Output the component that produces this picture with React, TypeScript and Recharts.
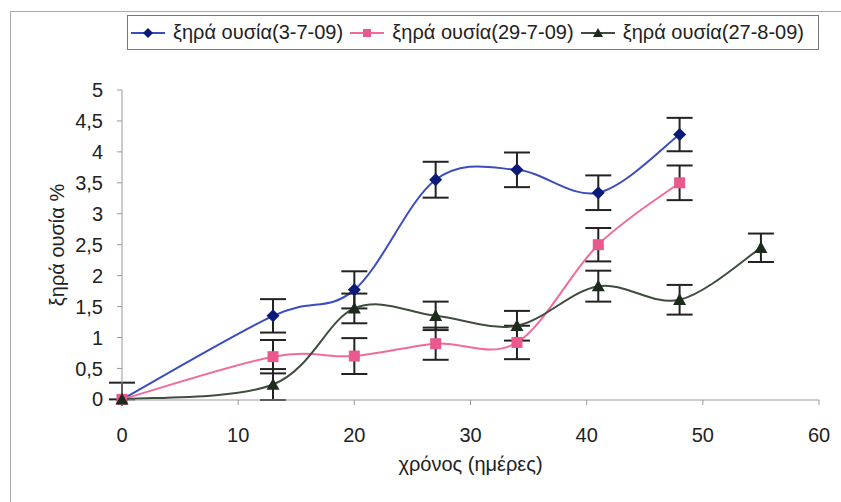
import { LineChart, Line, XAxis, YAxis, ErrorBar, Legend, Label } from 'recharts';

// sampling days
const days = [0, 13, 20, 27, 34, 41, 48, 55];

// dry matter % per harvest batch, with standard deviation
const dryMatter0307 = [0, 1.35, 1.77, 3.55, 3.71, 3.34, 4.28];
const err0307 = [0.27, 0.27, 0.3, 0.29, 0.28, 0.28, 0.27];
const dryMatter2907 = [0, 0.69, 0.7, 0.9, 0.92, 2.5, 3.5];
const err2907 = [null, 0.27, 0.29, 0.26, 0.27, 0.27, 0.28];
const dryMatter2708 = [0, 0.24, 1.47, 1.35, 1.19, 1.83, 1.61, 2.45];
const err2708 = [null, 0.25, 0.24, 0.23, 0.24, 0.25, 0.24, 0.23];

const xTicks = [0, 10, 20, 30, 40, 50, 60];
const yTicks = [0, 0.5, 1, 1.5, 2, 2.5, 3, 3.5, 4, 4.5, 5];

const seriesNames = ['ξηρά ουσία(3-7-09)', 'ξηρά ουσία(29-7-09)', 'ξηρά ουσία(27-8-09)'];

const FONT = '"Liberation Sans", Arial, sans-serif';
const FS = 20;

const build = (vals: number[], errs: (number | null)[]) =>
  vals.map((v, i) => ({
    day: days[i],
    value: v,
    // the first point sits on the axis, so only the upper half of its bar shows
    err: errs[i] == null ? null : i === 0 ? [0, errs[i]] : errs[i],
  }));

const data0307 = build(dryMatter0307, err0307);
const data2907 = build(dryMatter2907, err2907);
const data2708 = build(dryMatter2708, err2708);

// Excel-like smoothed line (uniform Catmull-Rom through every point)
const smoothCurve = (ctx: any) => {
  let pts: number[][] = [];
  return {
    areaStart() {},
    areaEnd() {},
    lineStart() {
      pts = [];
    },
    point(x: number, y: number) {
      pts.push([+x, +y]);
    },
    lineEnd() {
      if (!pts.length) return;
      ctx.moveTo(pts[0][0], pts[0][1]);
      for (let i = 0; i < pts.length - 1; i++) {
        const p0 = pts[i - 1] || pts[i];
        const p1 = pts[i];
        const p2 = pts[i + 1];
        const p3 = pts[i + 2] || p2;
        ctx.bezierCurveTo(
          p1[0] + (p2[0] - p0[0]) / 6,
          p1[1] + (p2[1] - p0[1]) / 6,
          p2[0] - (p3[0] - p1[0]) / 6,
          p2[1] - (p3[1] - p1[1]) / 6,
          p2[0],
          p2[1]
        );
      }
    },
  };
};

const colors = {
  blueLine: '#3a4cc0',
  blueMark: '#0c1a78',
  pinkLine: '#f06b9c',
  pinkMark: '#e9598d',
  greenLine: '#3e4d3e',
  greenMark: '#1d2b1d',
};

const Diamond = ({ cx, cy, fill, size = 6.5 }: any) => (
  <path d={`M${cx},${cy - size} L${cx + size},${cy} L${cx},${cy + size} L${cx - size},${cy} Z`} fill={fill} />
);
const Square = ({ cx, cy, fill, size = 5.5 }: any) => (
  <rect x={cx - size} y={cy - size} width={size * 2} height={size * 2} fill={fill} />
);
const Triangle = ({ cx, cy, fill, size = 6.5 }: any) => (
  <path d={`M${cx},${cy - size} L${cx + size},${cy + size * 0.8} L${cx - size},${cy + size * 0.8} Z`} fill={fill} />
);

const renderLegend = () => {
  const items = [
    { name: seriesNames[0], line: colors.blueLine, mark: <Diamond cx={17} cy={8} size={5} fill={colors.blueMark} /> },
    { name: seriesNames[1], line: colors.pinkLine, mark: <Square cx={17} cy={8} size={4} fill={colors.pinkMark} /> },
    { name: seriesNames[2], line: colors.greenLine, mark: <Triangle cx={17} cy={8} size={5} fill={colors.greenMark} /> },
  ];
  return (
    <div
      style={{
        display: 'flex',
        alignItems: 'center',
        justifyContent: 'space-between',
        border: '1.5px solid #777',
        height: 35,
        boxSizing: 'border-box',
        padding: '0 14px 0 3px',
        fontFamily: FONT,
        fontSize: FS,
        color: '#222',
      }}
    >
      {items.map((it) => (
        <div key={it.name} style={{ display: 'flex', alignItems: 'center' }}>
          <svg width={34} height={16} style={{ marginRight: 8 }}>
            <line x1={0} y1={8} x2={34} y2={8} stroke={it.line} strokeWidth={2} />
            {it.mark}
          </svg>
          <span>{it.name}</span>
        </div>
      ))}
    </div>
  );
};

const tickFmt = (v: number) => String(v).replace('.', ',');

export default function App() {
  return (
    <div style={{ position: 'absolute', left: 0, top: 0, width: 841, height: 502, background: '#fff', overflow: 'hidden' }}>
      <div
        style={{
          position: 'absolute',
          left: 10,
          top: 11,
          width: 900,
          height: 600,
          borderLeft: '1.5px solid #aaa',
          borderTop: '1.5px solid #aaa',
        }}
      />
      <div style={{ position: 'absolute', left: 0, top: 0 }}>
        <LineChart width={841} height={502} margin={{ top: 55, right: 22, bottom: 72, left: 0 }}>
          <XAxis
            type="number"
            dataKey="day"
            domain={[0, 60]}
            ticks={xTicks}
            interval={0}
            allowDuplicatedCategory={false}
            stroke="#999"
            tickSize={5}
            tickMargin={23}
            height={30}
            tick={{ fill: '#222', fontSize: FS, fontFamily: FONT }}
          >
            <Label value="χρόνος (ημέρες)" position="insideBottom" offset={-50} fill="#222" fontSize={FS} fontFamily={FONT} dy={-9} />
          </XAxis>
          <YAxis
            type="number"
            domain={[0, 5]}
            ticks={yTicks}
            interval={0}
            width={122}
            stroke="#999"
            tickSize={5}
            tickMargin={14}
            tickFormatter={tickFmt}
            tick={{ fill: '#222', fontSize: FS, fontFamily: FONT }}
          >
            <Label value="ξηρά ουσία %" angle={-90} position="insideLeft" offset={57} fill="#222" fontSize={FS} fontFamily={FONT} style={{ textAnchor: 'middle' }} />
          </YAxis>
          <Legend
            verticalAlign="top"
            content={renderLegend}
            wrapperStyle={{ top: 15, left: 127, width: 692 }}
          />
          <Line
            data={data0307}
            dataKey="value"
            name={seriesNames[0]}
            type={smoothCurve as any}
            stroke={colors.blueLine}
            strokeWidth={2}
            isAnimationActive={false}
            dot={(p: any) => <Diamond key={`b${p.index}`} cx={p.cx} cy={p.cy} fill={colors.blueMark} />}
            activeDot={false}
          >
            <ErrorBar dataKey="err" direction="y" width={13} stroke="#222" strokeWidth={2} />
          </Line>
          <Line
            data={data2907}
            dataKey="value"
            name={seriesNames[1]}
            type={smoothCurve as any}
            stroke={colors.pinkLine}
            strokeWidth={2}
            isAnimationActive={false}
            dot={(p: any) => <Square key={`p${p.index}`} cx={p.cx} cy={p.cy} fill={colors.pinkMark} />}
            activeDot={false}
          >
            <ErrorBar dataKey="err" direction="y" width={13} stroke="#222" strokeWidth={2} />
          </Line>
          <Line
            data={data2708}
            dataKey="value"
            name={seriesNames[2]}
            type={smoothCurve as any}
            stroke={colors.greenLine}
            strokeWidth={2}
            isAnimationActive={false}
            dot={(p: any) => <Triangle key={`g${p.index}`} cx={p.cx} cy={p.cy} fill={colors.greenMark} />}
            activeDot={false}
          >
            <ErrorBar dataKey="err" direction="y" width={13} stroke="#222" strokeWidth={2} />
          </Line>
        </LineChart>
      </div>
    </div>
  );
}
